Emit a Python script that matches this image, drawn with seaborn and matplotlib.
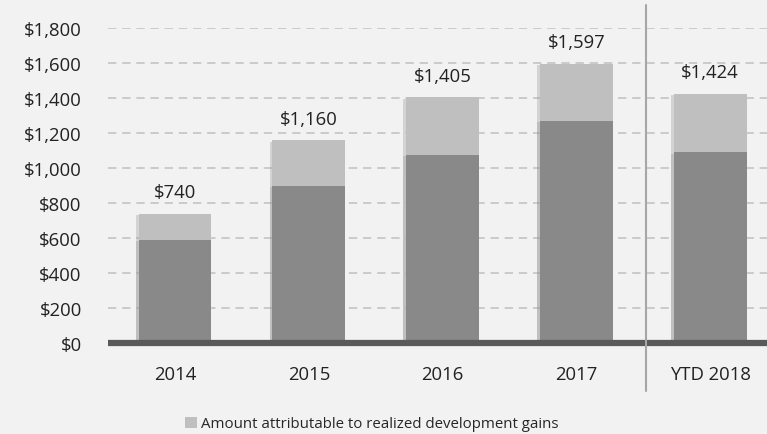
import matplotlib
matplotlib.use("Agg")
import matplotlib.pyplot as plt
import matplotlib.patheffects as pe
from matplotlib.patches import Patch
import seaborn as sns
import pandas as pd

# 数据
years = ["2014", "2015", "2016", "2017", "YTD 2018"]
totals = [740, 1160, 1405, 1597, 1424]
base_amount = [590, 900, 1075, 1270, 1090]
y_ticks = [0, 200, 400, 600, 800, 1000, 1200, 1400, 1600, 1800]
legend_label = "Amount attributable to realized development gains"

BG = "#f2f2f2"
LIGHT = "#bfbfbf"
DARK = "#898989"
TXT = "#222222"

sns.set_theme(style="white")
plt.rcParams["font.family"] = ["Open Sans", "DejaVu Sans"]

df = pd.DataFrame({"year": years, "total": totals, "base": base_amount})

fig = plt.figure(figsize=(7.67, 4.35), dpi=100, facecolor=BG)
ax = fig.add_axes([0.141, 0.209, 0.859, 0.724])
ax.set_facecolor(BG)

sns.barplot(data=df, x="year", y="total", color=LIGHT, width=0.545,
            saturation=1, linewidth=0, ax=ax, zorder=2)
sns.barplot(data=df, x="year", y="base", color=DARK, width=0.545,
            saturation=1, linewidth=0, ax=ax, zorder=3)

# 柱子左侧淡阴影
shadow = [pe.SimplePatchShadow(offset=(-2, -1), shadow_rgbFace="#9a9a9a", alpha=0.35),
          pe.Normal()]
for p in ax.patches:
    p.set_path_effects(shadow)

for i, v in enumerate(totals):
    ax.annotate(f"${v:,}", (i, v), xytext=(0, 9), textcoords="offset points",
                ha="center", va="bottom", fontsize=13.3, color=TXT)

ax.set_ylim(0, 1800)
ax.set_xlim(-0.5, 4.425)
ax.set_yticks(y_ticks)
ax.set_yticklabels([f"${t:,}" for t in y_ticks], fontsize=13.3, color=TXT)
ax.tick_params(axis="x", labelsize=13.3, colors=TXT, pad=16, length=0)
ax.tick_params(axis="y", length=0, pad=19)
ax.set_xlabel("")
ax.set_ylabel("")

ax.yaxis.grid(True, linestyle=(0, (5, 3.5)), color="#c4c4c4", linewidth=1.2)
ax.set_axisbelow(True)
for s in ax.spines.values():
    s.set_visible(False)

ax.axhline(0, color="#595959", linewidth=4.5, zorder=4, clip_on=False,
           solid_capstyle="butt")
ax.axvline(3.52, ymin=-0.152, ymax=1.073, color="#a6a6a6", linewidth=1.5,
           clip_on=False, zorder=5)

handle = Patch(facecolor=LIGHT, edgecolor="none")
fig.legend([handle], [legend_label], loc="lower center",
           bbox_to_anchor=(0.485, -0.025), frameon=False, fontsize=10.8,
           handlelength=0.75, handleheight=0.75, handletextpad=0.3)

fig.savefig("out.png", dpi=100, facecolor=BG)
plt.close(fig)
